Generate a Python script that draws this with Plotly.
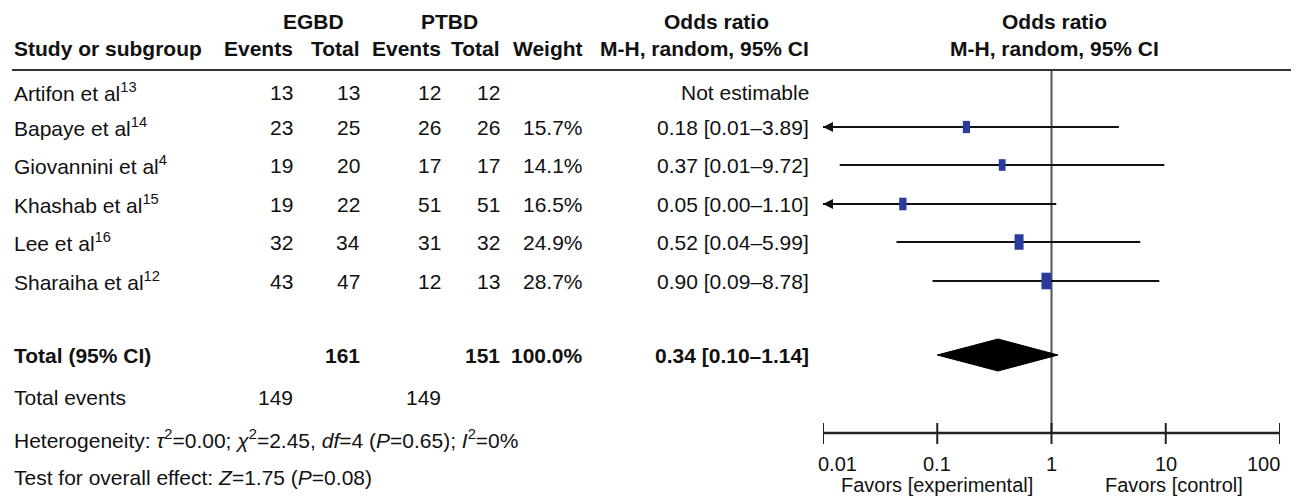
import math
import plotly.graph_objects as go

# ---------------- data ----------------
studies = ["Artifon et al", "Bapaye et al", "Giovannini et al", "Khashab et al", "Lee et al", "Sharaiha et al"]
refs = ["13", "14", "4", "15", "16", "12"]
egbd_events = [13, 23, 19, 19, 32, 43]
egbd_total = [13, 25, 20, 22, 34, 47]
ptbd_events = [12, 26, 17, 51, 31, 12]
ptbd_total = [12, 26, 17, 51, 32, 13]
weights = [None, 15.7, 14.1, 16.5, 24.9, 28.7]
or_est = [None, 0.18, 0.37, 0.05, 0.52, 0.90]
ci_low = [None, 0.008, 0.014, 0.002, 0.044, 0.091]
ci_high = [None, 3.89, 9.72, 1.10, 5.99, 8.78]

total_egbd = 161
total_ptbd = 151
total_weight = 100.0
pooled_or = 0.34
pooled_low = 0.10
pooled_high = 1.14
events_egbd = 149
events_ptbd = 149

heterogeneity_text = ("Heterogeneity: <i>τ</i><sup>2</sup>=0.00; <i>χ</i><sup>2</sup>=2.45, "
                      "<i>df</i>=4 (<i>P</i>=0.65); <i>I</i><sup>2</sup>=0%")
overall_text = "Test for overall effect: <i>Z</i>=1.75 (<i>P</i>=0.08)"

tick_vals = [0.01, 0.1, 1, 10, 100]
tick_text = ["0.01", "0.1", "1", "10", "100"]
favors_labels = ["Favors [experimental]", "Favors [control]"]
favors_pos = [0.1, 10]

# ---------------- layout constants ----------------
OFF = 8                     # page body margin in the browser
W = 1299 - OFF
H = 504 - 2 * OFF
FONT = "Liberation Sans, Arial, sans-serif"
FS = 21
FS_AX = 20
row_y = [92, 127, 165, 204, 242, 281]
Y_TOTAL, Y_EVENTS, Y_HET, Y_TEST = 355, 397, 439, 477
Y_HEAD1, Y_HEAD2, Y_RULE = 21, 48, 70
Y_AXIS, Y_TICKLAB, Y_FAVORS = 433, 464, 485
X_LABEL = 12
COL_EE, COL_ET, COL_PE, COL_PT, COL_W, COL_OR = 295, 362, 443, 502, 585, 811
X_PLOT0, X_PLOT1 = 823, 1280
X_MIN = 0.01
PX_PER_DECADE = (X_PLOT1 - X_PLOT0) / 4.0
SQUARE = "#2b3a9e"


def px(x):
    return (x - OFF) / W


fig = go.Figure()
ann = []


def text(x, y, s, anchor="left", bold=False):
    if bold:
        s = "<b>" + s + "</b>"
    ann.append(dict(x=px(x), y=y, xref="paper", yref="y", text=s, showarrow=False,
                    xanchor=anchor, yanchor="middle",
                    font=dict(family=FONT, size=FS, color="#111")))


# headers
text(313, Y_HEAD1, "EGBD", "center", True)
text(449, Y_HEAD1, "PTBD", "center", True)
text(717, Y_HEAD1, "Odds ratio", "center", True)
text(1054, Y_HEAD1, "Odds ratio", "center", True)
text(X_LABEL, Y_HEAD2, "Study or subgroup", "left", True)
text(COL_EE, Y_HEAD2, "Events", "right", True)
text(COL_ET, Y_HEAD2, "Total", "right", True)
text(COL_PE, Y_HEAD2, "Events", "right", True)
text(COL_PT, Y_HEAD2, "Total", "right", True)
text(COL_W, Y_HEAD2, "Weight", "right", True)
text(COL_OR, Y_HEAD2, "M-H, random, 95% CI", "right", True)
text(1054, Y_HEAD2, "M-H, random, 95% CI", "center", True)

# study rows
for i, name in enumerate(studies):
    y = row_y[i]
    text(X_LABEL, y, f"{name}<sup>{refs[i]}</sup>")
    text(COL_EE, y, str(egbd_events[i]), "right")
    text(COL_ET, y, str(egbd_total[i]), "right")
    text(COL_PE, y, str(ptbd_events[i]), "right")
    text(COL_PT, y, str(ptbd_total[i]), "right")
    if weights[i] is None:
        text(COL_OR, y, "Not estimable", "right")
    else:
        text(COL_W, y, f"{weights[i]:.1f}%", "right")
        text(COL_OR, y, f"{or_est[i]:.2f} [{ci_low[i]:.2f}–{ci_high[i]:.2f}]", "right")

# totals
text(X_LABEL, Y_TOTAL, "Total (95% CI)", "left", True)
text(COL_ET, Y_TOTAL, str(total_egbd), "right", True)
text(COL_PT, Y_TOTAL, str(total_ptbd), "right", True)
text(COL_W, Y_TOTAL, f"{total_weight:.1f}%", "right", True)
text(COL_OR, Y_TOTAL, f"{pooled_or:.2f} [{pooled_low:.2f}–{pooled_high:.2f}]", "right", True)
text(X_LABEL, Y_EVENTS, "Total events")
text(COL_EE, Y_EVENTS, str(events_egbd), "right")
text(COL_PE, Y_EVENTS, str(events_ptbd), "right")
text(X_LABEL, Y_HET, heterogeneity_text)
text(X_LABEL, Y_TEST, overall_text)

# reference line at OR = 1
fig.add_trace(go.Scatter(x=[1, 1], y=[Y_RULE, Y_AXIS], mode="lines",
                         line=dict(color="#555", width=2), hoverinfo="skip"))

# CI lines, arrows and weight boxes
for i in range(len(studies)):
    if or_est[i] is None:
        continue
    y = row_y[i]
    lo = max(ci_low[i], X_MIN)
    fig.add_trace(go.Scatter(x=[lo, ci_high[i]], y=[y, y], mode="lines",
                             line=dict(color="#111", width=2), hoverinfo="skip"))
    if ci_low[i] < X_MIN:
        fig.add_trace(go.Scatter(x=[X_MIN], y=[y], mode="markers", cliponaxis=False,
                                 marker=dict(symbol="arrow-left", size=10, color="#111",
                                             line=dict(width=0)),
                                 hoverinfo="skip"))
    hh = 3.1 * weights[i] ** 0.5 / 2          # half height, px
    hw = 1.8 * weights[i] ** 0.5 / 2          # half width, px
    k = 10 ** (hw / PX_PER_DECADE)
    xs = [or_est[i] / k, or_est[i] * k, or_est[i] * k, or_est[i] / k, or_est[i] / k]
    ys = [y - hh, y - hh, y + hh, y + hh, y - hh]
    fig.add_trace(go.Scatter(x=xs, y=ys, mode="lines", fill="toself", fillcolor=SQUARE,
                             line=dict(width=0, color=SQUARE), hoverinfo="skip"))

# pooled diamond
DH = 16
fig.add_trace(go.Scatter(x=[pooled_low, pooled_or, pooled_high, pooled_or, pooled_low],
                         y=[Y_TOTAL, Y_TOTAL - DH, Y_TOTAL, Y_TOTAL + DH, Y_TOTAL],
                         mode="lines", fill="toself", fillcolor="#000",
                         line=dict(color="#000", width=1), hoverinfo="skip"))

# axis line and ticks
fig.add_trace(go.Scatter(x=[tick_vals[0], tick_vals[-1]], y=[Y_AXIS, Y_AXIS], mode="lines",
                         line=dict(color="#222", width=2.5), hoverinfo="skip"))
tx, ty = [], []
for v in tick_vals:
    tx += [v, v, None]
    ty += [Y_AXIS - 10, Y_AXIS + 11, None]
fig.add_trace(go.Scatter(x=tx, y=ty, mode="lines", line=dict(color="#222", width=2),
                         hoverinfo="skip", cliponaxis=False))

# tick labels: first left-aligned, last right-aligned at their ticks
for j, (v, t) in enumerate(zip(tick_vals, tick_text)):
    if j == 0:
        anchor, shift = "left", -7
    elif j == len(tick_vals) - 1:
        anchor, shift = "right", 2
    else:
        anchor, shift = "center", 0
    ann.append(dict(x=math.log10(v), y=Y_TICKLAB, xref="x", yref="y", text=t,
                    showarrow=False, xanchor=anchor, yanchor="middle", xshift=shift,
                    font=dict(family=FONT, size=FS_AX, color="#111")))

for j, (v, t) in enumerate(zip(favors_pos, favors_labels)):
    ann.append(dict(x=math.log10(v), y=Y_FAVORS, xref="x", yref="y", text=t,
                    showarrow=False, xanchor="center", yanchor="middle",
                    xshift=0 if j == 0 else 8,
                    font=dict(family=FONT, size=FS_AX, color="#111")))

shapes = [dict(type="line", xref="paper", yref="y", x0=px(12), x1=px(1297),
               y0=Y_RULE, y1=Y_RULE, line=dict(color="#333", width=2))]

fig.update_layout(
    width=W, height=H, margin=dict(l=0, r=0, t=0, b=0),
    paper_bgcolor="white", plot_bgcolor="white", showlegend=False,
    xaxis=dict(type="log", range=[-2, 2], domain=[px(X_PLOT0), px(X_PLOT1)], visible=False),
    yaxis=dict(range=[H + OFF, OFF], domain=[0, 1], visible=False),
    annotations=ann, shapes=shapes,
)

fig.write_html("out.html")
